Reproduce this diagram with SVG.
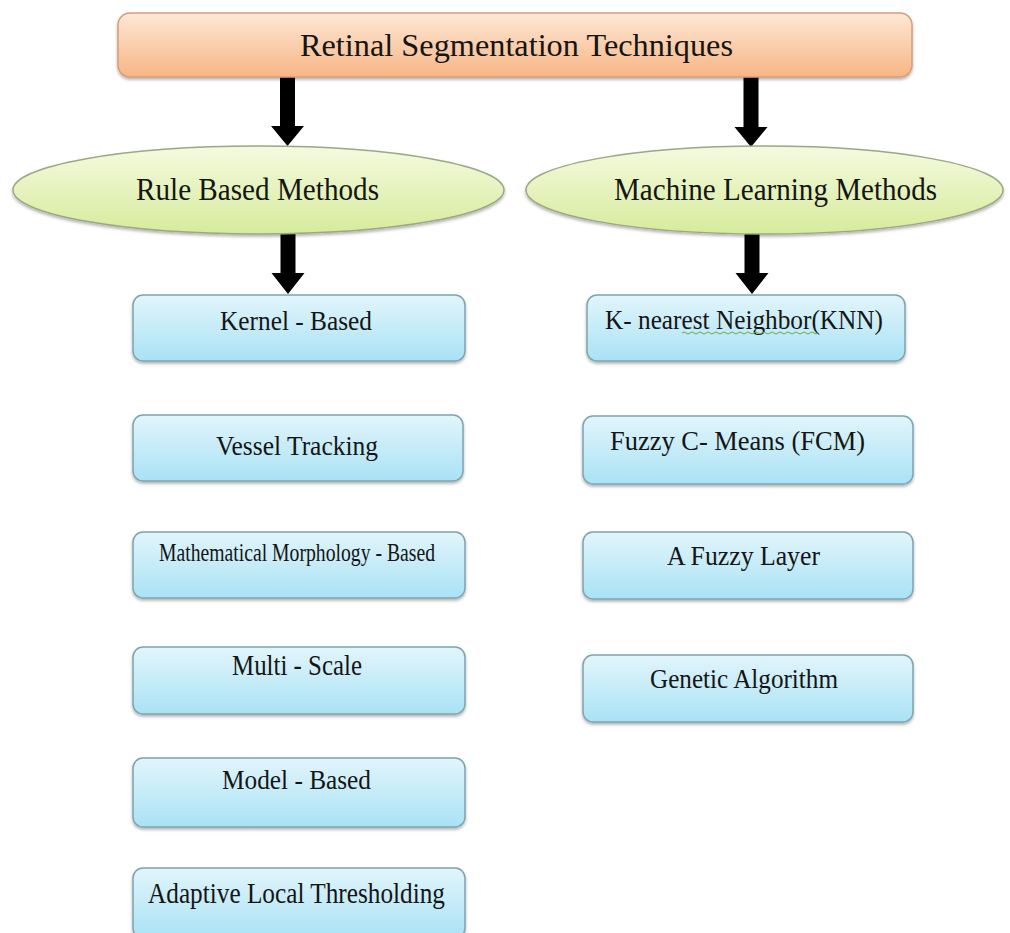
<svg xmlns="http://www.w3.org/2000/svg" width="1010" height="933" viewBox="0 0 1010 933">
<defs>
<linearGradient id="gOrange" x1="0" y1="0" x2="0" y2="1">
<stop offset="0" stop-color="#fde8d6"/>
<stop offset="1" stop-color="#f8b584"/>
</linearGradient>
<linearGradient id="gGreen" x1="0" y1="0" x2="0" y2="1">
<stop offset="0" stop-color="#f5fadf"/>
<stop offset="1" stop-color="#d6eb9c"/>
</linearGradient>
<linearGradient id="gBlue" x1="0" y1="0" x2="0" y2="1">
<stop offset="0" stop-color="#e2f5fb"/>
<stop offset="1" stop-color="#a9e2f5"/>
</linearGradient>
<filter id="sh" x="-5%" y="-10%" width="110%" height="130%">
<feDropShadow dx="0" dy="2" stdDeviation="1.5" flood-color="#000" flood-opacity="0.3"/>
</filter>
</defs>
<style>
.top{fill:url(#gOrange);stroke:#d39d79;stroke-width:1.5;filter:url(#sh)}
.ell{fill:url(#gGreen);stroke:#9aa984;stroke-width:1.5;filter:url(#sh)}
.box{fill:url(#gBlue);stroke:#7ea4b0;stroke-width:1.5;filter:url(#sh)}
.t{font-family:"Liberation Serif","Times New Roman",serif;fill:#151515;text-anchor:middle}
.arr{fill:#000}
</style>
<rect width="1010" height="933" fill="#ffffff"/>
<g id="connectors">
<polygon class="arr" points="280,76 295,76 295,126 304,126 287.5,146 271,126 280,126"/>
<polygon class="arr" points="743.5,76 758.5,76 758.5,127 767.5,127 751,147 734.5,127 743.5,127"/>
<polygon class="arr" points="280.5,232 295.5,232 295.5,273 304.5,273 288,294 271.5,273 280.5,273"/>
<polygon class="arr" points="744.5,232 759.5,232 759.5,273 768.5,273 752,294 735.5,273 744.5,273"/>
</g>
<g id="root">
<rect class="top" x="118" y="13" width="794" height="64" rx="12"/>
<text class="t" x="516.5" y="56" font-size="32" textLength="433" lengthAdjust="spacingAndGlyphs">Retinal Segmentation Techniques</text>
</g>
<g id="rule">
<ellipse class="ell" cx="258.5" cy="190" rx="245.5" ry="44"/>
<text class="t" x="257.5" y="200" font-size="31" textLength="243" lengthAdjust="spacingAndGlyphs">Rule Based Methods</text>
</g>
<g id="ml">
<ellipse class="ell" cx="764.5" cy="190" rx="238.5" ry="44"/>
<text class="t" x="775.5" y="200" font-size="31" textLength="323" lengthAdjust="spacingAndGlyphs">Machine Learning Methods</text>
</g>
<g id="kernel">
<rect class="box" x="133" y="295" width="332" height="66" rx="10"/>
<text class="t" x="296" y="330" font-size="28" textLength="152" lengthAdjust="spacingAndGlyphs">Kernel - Based</text>
</g>
<g id="vessel">
<rect class="box" x="133" y="415" width="330" height="66" rx="10"/>
<text class="t" x="297" y="455" font-size="28" textLength="162" lengthAdjust="spacingAndGlyphs">Vessel Tracking</text>
</g>
<g id="math">
<rect class="box" x="133" y="532" width="332" height="66" rx="10"/>
<text class="t" x="297" y="561" font-size="25" textLength="276" lengthAdjust="spacingAndGlyphs">Mathematical Morphology - Based</text>
</g>
<g id="multi">
<rect class="box" x="133" y="647" width="332" height="67" rx="10"/>
<text class="t" x="297" y="675" font-size="29" textLength="130" lengthAdjust="spacingAndGlyphs">Multi - Scale</text>
</g>
<g id="model">
<rect class="box" x="133" y="758" width="332" height="69" rx="10"/>
<text class="t" x="296.5" y="789" font-size="28" textLength="149" lengthAdjust="spacingAndGlyphs">Model - Based</text>
</g>
<g id="adaptive">
<rect class="box" x="133" y="868" width="332" height="70" rx="10"/>
<text class="t" x="296.5" y="903" font-size="29" textLength="297" lengthAdjust="spacingAndGlyphs">Adaptive Local Thresholding</text>
</g>
<g id="knn">
<rect class="box" x="587" y="295" width="318" height="66" rx="10"/>
<text class="t" x="744" y="329" font-size="28" textLength="278" lengthAdjust="spacingAndGlyphs">K- nearest Neighbor(KNN)</text>
<path d="M682,333 q2,-2 4,0 t4,0 t4,0 t4,0 t4,0 t4,0 t4,0 t4,0 t4,0 t4,0 t4,0 t4,0 t4,0 t4,0 t4,0 t4,0 t4,0 t4,0 t4,0 t4,0 t4,0 t4,0 t4,0 t4,0 t4,0 t4,0 t4,0 t4,0 t4,0 t4,0 t4,0 t4,0 t4,0 t4,0" fill="none" stroke="#6aa84f" stroke-width="1"/>
</g>
<g id="fcm">
<rect class="box" x="583" y="416" width="330" height="68" rx="10"/>
<text class="t" x="737.5" y="450" font-size="28" textLength="255" lengthAdjust="spacingAndGlyphs">Fuzzy C- Means (FCM)</text>
</g>
<g id="fuzzylayer">
<rect class="box" x="583" y="532" width="330" height="67" rx="10"/>
<text class="t" x="743.5" y="565" font-size="28" textLength="153" lengthAdjust="spacingAndGlyphs">A Fuzzy Layer</text>
</g>
<g id="genetic">
<rect class="box" x="583" y="655" width="330" height="67" rx="10"/>
<text class="t" x="744" y="688" font-size="28" textLength="188" lengthAdjust="spacingAndGlyphs">Genetic Algorithm</text>
</g>
</svg>
